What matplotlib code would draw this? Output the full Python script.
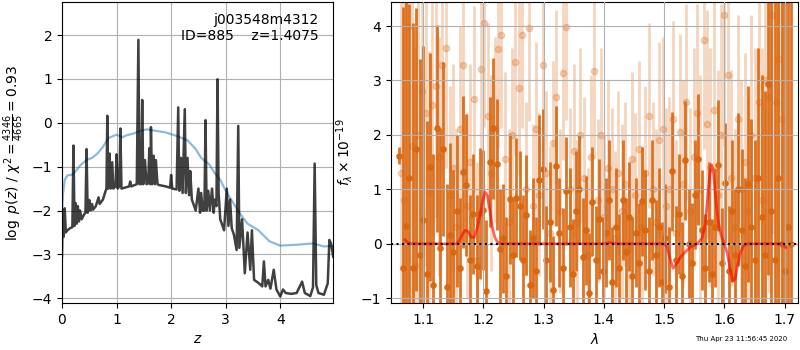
import matplotlib
matplotlib.use('Agg')
import matplotlib.pyplot as plt


# p(z) -- left panel
z_pz = [0.00, 0.01, 0.03, 0.05, 0.07, 0.10, 0.15, 0.19, 0.21, 0.23, 0.25, 0.27, 0.29, 0.31, 0.33,
        0.36, 0.40, 0.43, 0.45, 0.47, 0.50, 0.52, 0.55, 0.57, 0.62, 0.67, 0.69, 0.75, 0.80, 0.815,
        0.83, 0.845, 0.87, 0.89, 0.92, 0.94, 0.98, 1.00, 1.02, 1.05, 1.07, 1.09, 1.15, 1.23, 1.25,
        1.27, 1.37, 1.40, 1.42, 1.43, 1.45, 1.47, 1.49, 1.52, 1.55, 1.58, 1.60, 1.62, 1.63, 1.65,
        1.68, 1.70, 1.72, 1.75, 1.78, 1.90, 1.98, 2.00, 2.02, 2.10, 2.13, 2.15, 2.18, 2.21, 2.25,
        2.27, 2.30, 2.33, 2.35, 2.38, 2.45, 2.50, 2.53, 2.55, 2.58, 2.61, 2.63, 2.65, 2.68, 2.71,
        2.75, 2.78, 2.80, 2.83, 2.85, 2.87, 2.90, 2.97, 3.02, 3.05, 3.08, 3.11, 3.15, 3.20, 3.23,
        3.25, 3.30, 3.35, 3.40, 3.45, 3.48, 3.52, 3.60, 3.67, 3.70, 3.73, 3.78, 3.82, 3.88, 3.93,
        4.00, 4.05, 4.10, 4.20, 4.30, 4.40, 4.45, 4.55, 4.60, 4.63, 4.66, 4.70, 4.80, 4.87, 4.90,
        4.93, 4.97]
logp = [-3.05, -2.30, -2.60, -1.95, -2.50, -2.45, -2.40, -2.38, -0.52, -2.35, -1.83, -2.30, -1.90,
        -2.25, -2.00, -2.20, -2.10, -2.05, -0.60, -2.05, -1.76, -2.00, -1.85, -1.98, -1.90, -1.70,
        -1.85, -1.75, -1.55, -1.50, 0.16, -1.50, -0.70, -1.50, -0.90, -1.50, -1.45, -0.72, -1.50,
        -1.45, -0.13, -1.50, -1.48, -1.45, -1.34, -1.45, -1.40, 1.89, -1.40, -0.55, -1.40, 0.52,
        -1.40, -0.85, -1.40, -1.38, -0.58, -1.40, -0.10, -1.40, -0.75, -1.40, -0.85, -1.40, -1.42,
        -1.45, -1.48, -1.19, -1.50, -1.52, 0.35, -1.55, -0.80, -1.60, 0.31, -1.60, -0.80, -1.65,
        -1.10, -1.75, -2.00, -1.50, -2.05, -1.60, -2.00, -2.00, 0.06, -2.00, -1.55, -2.00, -1.50,
        -2.05, -1.75, -1.90, 0.99, -1.60, -2.20, -2.45, -1.50, -2.35, -1.75, -2.40, -2.55, -2.90,
        -0.07, -2.85, -2.20, -3.43, -2.50, -3.35, -2.45, -3.58, -3.65, -3.73, -3.16, -3.73, -3.58,
        -3.78, -3.35, -3.80, -3.96, -3.80, -3.88, -3.90, -3.88, -3.62, -3.88, -3.95, -3.75, -0.93,
        -3.70, -3.88, -3.92, -3.66, -2.67, -2.75, -3.05]

z_chi = [0.00, 0.02, 0.05, 0.10, 0.20, 0.25, 0.35, 0.45, 0.55, 0.65, 0.75, 0.85, 1.00, 1.10, 1.20,
         1.30, 1.40, 1.55, 1.70, 1.90, 2.10, 2.30, 2.45, 2.55, 2.60, 2.70, 2.80, 2.90, 3.00, 3.10,
         3.25, 3.40, 3.60, 3.80, 4.00, 4.30, 4.60, 4.80, 4.97]
chi_curve = [-2.05, -1.60, -1.30, -1.20, -1.18, -1.10, -0.95, -0.85, -0.80, -0.70, -0.55, -0.35,
             -0.27, -0.33, -0.28, -0.25, -0.20, -0.15, -0.18, -0.22, -0.30, -0.40, -0.60, -0.80,
             -0.85, -0.95, -1.15, -1.30, -1.55, -1.75, -2.05, -2.30, -2.45, -2.70, -2.80, -2.78,
             -2.75, -2.82, -2.80]

# spectrum -- right panel, first set (dark)
wave_a = [1.060, 1.066, 1.072, 1.077, 1.083, 1.088, 1.094, 1.100, 1.106, 1.112, 1.117, 1.123,
          1.128, 1.133, 1.139, 1.145, 1.150, 1.156, 1.162, 1.167, 1.172, 1.178, 1.183, 1.189,
          1.194, 1.200, 1.205, 1.211, 1.216, 1.222, 1.227, 1.233, 1.238, 1.244, 1.249, 1.255,
          1.260, 1.266, 1.271, 1.277, 1.282, 1.288, 1.293, 1.299, 1.304, 1.310, 1.315, 1.321,
          1.326, 1.332, 1.337, 1.343, 1.348, 1.354, 1.359, 1.365, 1.370, 1.376, 1.381, 1.387,
          1.392, 1.398, 1.403, 1.409, 1.414, 1.420, 1.425, 1.431, 1.436, 1.442, 1.447, 1.453,
          1.458, 1.464, 1.469, 1.475, 1.480, 1.486, 1.491, 1.497, 1.502, 1.508, 1.513, 1.519,
          1.524, 1.530, 1.535, 1.541, 1.546, 1.552, 1.557, 1.563, 1.568, 1.574, 1.579, 1.585,
          1.590, 1.596, 1.601, 1.607, 1.612, 1.618, 1.623, 1.629, 1.634, 1.640, 1.645, 1.651,
          1.656, 1.662, 1.667, 1.673, 1.678, 1.684, 1.689, 1.695, 1.700, 1.706, 1.711]
flux_a = [1.62, -0.45, 0.32, 1.20, -0.45, 1.74, -0.20, 0.43, -0.55, 1.41, -0.75, 2.12, -0.07,
          1.74, -0.80, 0.16, -0.15, 0.60, -0.45, 1.32, 1.08, -0.30, 0.55, -0.40, 0.56, 0.62,
          -0.86, 1.50, 2.12, 1.46, -0.10, 0.10, -0.60, 0.82, -0.20, 0.85, 0.70, -0.30, 0.53,
          -0.75, 0.10, -0.50, 1.17, 1.38, -0.30, 0.40, -0.85, 1.43, 0.20, -0.45, 0.97, 0.30,
          -0.55, 0.60, 1.00, -0.25, 0.25, -0.90, 0.77, -0.30, 0.45, -0.50, 0.20, 0.80, -0.70,
          0.30, -0.45, 0.80, -0.15, 0.50, -0.60, 0.20, -0.35, 0.78, 0.25, -0.50, 0.80, -0.20,
          0.30, -0.70, 0.10, -0.80, 1.33, -0.30, 0.55, -0.60, 1.53, 0.00, -0.35, 0.90, 1.55,
          0.25, -0.45, 0.40, -0.55, 0.30, 1.44, -0.35, 1.12, -0.50, 0.60, -0.20, 1.00, 0.25,
          -0.40, 1.10, 0.30, -0.30, 1.20, 0.50, -0.20, 2.93, 0.60, -0.30, 1.20, 0.00, -0.50,
          0.30, 0.00]
err_a = [0.15, 4.8, 5.0, 3.2, 4.5, 2.6, 3.6, 3.2, 2.8, 2.1, 2.4, 1.9, 2.2, 1.6, 1.9, 1.7, 1.5,
         1.4, 1.3, 1.4, 1.3, 1.2, 1.1, 1.3, 1.2, 1.1, 1.3, 1.2, 1.3, 1.2, 1.1, 1.0, 1.1, 1.2,
         1.0, 1.1, 1.0, 1.2, 1.1, 1.0, 1.1, 1.0, 1.2, 1.1, 1.0, 1.1, 1.0, 1.1, 1.0, 1.1, 1.0,
         1.1, 1.0, 1.1, 1.0, 1.1, 1.0, 1.1, 1.0, 1.0, 1.1, 1.0, 1.0, 1.1, 1.0, 1.1, 1.0, 1.1,
         1.0, 1.0, 1.1, 1.0, 1.1, 1.0, 1.1, 1.0, 1.1, 1.0, 1.1, 1.1, 1.0, 1.1, 1.1, 1.0, 1.1,
         1.0, 1.1, 1.0, 1.1, 1.0, 1.2, 1.1, 1.0, 1.1, 1.0, 1.1, 1.2, 1.0, 1.1, 1.2, 1.3, 1.2,
         1.4, 1.5, 1.6, 1.8, 2.0, 2.2, 2.4, 2.6, 3.0, 3.5, 4.0, 5.0, 6.0, 7.0, 8.0, 8.0, 8.0]

# second set (light)
wave_b = [1.063, 1.069, 1.075, 1.081, 1.087, 1.092, 1.098, 1.104, 1.109, 1.115, 1.121, 1.127,
          1.132, 1.138, 1.144, 1.150, 1.155, 1.161, 1.167, 1.173, 1.178, 1.184, 1.190, 1.196,
          1.201, 1.207, 1.213, 1.219, 1.224, 1.230, 1.236, 1.242, 1.247, 1.253, 1.259, 1.264,
          1.270, 1.276, 1.282, 1.287, 1.293, 1.299, 1.304, 1.310, 1.316, 1.321, 1.327, 1.333,
          1.338, 1.344, 1.350, 1.356, 1.361, 1.367, 1.373, 1.378, 1.384, 1.390, 1.395, 1.401,
          1.407, 1.413, 1.418, 1.424, 1.430, 1.435, 1.441, 1.447, 1.452, 1.458, 1.464, 1.469,
          1.475, 1.481, 1.486, 1.492, 1.498, 1.503, 1.509, 1.515, 1.520, 1.526, 1.532, 1.537,
          1.543, 1.549, 1.555, 1.560, 1.566, 1.572, 1.577, 1.583, 1.589, 1.594, 1.600, 1.606,
          1.611, 1.617, 1.623, 1.628, 1.634, 1.640, 1.645, 1.651, 1.657, 1.662, 1.668, 1.674,
          1.679, 1.685, 1.691, 1.696]
flux_b = [1.30, 0.80, 3.98, 1.80, -0.40, 2.00, 2.80, 2.40, 0.95, 2.55, 2.90, 1.60, 3.28, 3.60,
          0.90, 1.40, 0.30, 2.10, 3.28, 0.70, 1.50, 2.66, -0.30, 3.22, 4.05, 2.35, 1.30, 2.10,
          3.57, 3.83, 1.55, 0.40, 2.00, 3.34, 2.87, 3.83, 1.00, 3.96, 0.70, 2.10, 0.90, 3.28,
          1.30, 0.20, 1.85, 2.69, 0.60, 3.13, 3.98, 1.00, 1.70, 0.40, 2.00, 1.20, -0.20, 1.60,
          3.17, 0.80, 2.00, 0.50, 1.40, 1.00, 0.10, 1.30, 0.60, 1.10, -0.10, 1.55, 0.90, 1.75,
          0.30, 1.30, 2.35, 1.00, 0.40, 1.90, 2.10, 0.70, 1.00, 2.30, 0.20, 2.05, 1.10, 2.60,
          0.60, 1.60, 2.40, 1.00, 3.74, 2.20, 1.40, 2.45, 0.90, 2.00, 4.20, 3.10, 1.20, 0.30,
          2.30, 1.00, 1.50, 0.60, 2.00, 1.20, 2.60, 0.80, 3.00, 2.70, 4.20, 2.60, 3.40, 2.30]
err_b = [6.0, 6.0, 5.0, 4.5, 4.0, 3.5, 3.0, 2.8, 2.6, 2.4, 2.4, 2.2, 2.0, 2.2, 2.0, 1.9, 1.8,
         1.9, 1.8, 1.7, 1.8, 1.7, 1.8, 1.8, 1.9, 1.7, 1.8, 1.7, 1.8, 1.7, 1.6, 1.7, 1.6, 1.7,
         1.6, 1.7, 1.6, 1.7, 1.5, 1.6, 1.5, 1.6, 1.5, 1.6, 1.5, 1.6, 1.5, 1.6, 1.7, 1.5, 1.6,
         1.5, 1.6, 1.5, 1.6, 1.5, 1.6, 1.5, 1.6, 1.5, 1.6, 1.5, 1.6, 1.5, 1.6, 1.5, 1.6, 1.6,
         1.5, 1.6, 1.5, 1.6, 1.7, 1.6, 1.7, 1.8, 1.7, 1.8, 1.7, 1.8, 1.7, 1.8, 1.9, 1.8, 1.9,
         2.0, 2.0, 2.1, 2.0, 2.1, 2.2, 2.2, 2.3, 2.4, 2.4, 2.5, 2.0, 1.8, 1.9, 2.0, 2.0, 2.1,
         2.2, 2.4, 2.6, 2.8, 3.2, 3.6, 4.0, 4.6, 5.2, 6.0]

# line model
wave_m = [1.070, 1.075, 1.080, 1.155, 1.160, 1.165, 1.170, 1.175, 1.180, 1.185, 1.190, 1.195,
          1.199, 1.203, 1.207, 1.211, 1.215, 1.219, 1.223, 1.228, 1.400, 1.410, 1.420, 1.500,
          1.505, 1.510, 1.515, 1.520, 1.527, 1.535, 1.545, 1.555, 1.563, 1.568, 1.572, 1.576,
          1.579, 1.582, 1.586, 1.590, 1.595, 1.600, 1.605, 1.610, 1.614, 1.618, 1.622, 1.627,
          1.632, 1.640, 1.698, 1.702]
model = [0.07, 0.02, 0.00, 0.00, 0.05, 0.17, 0.25, 0.22, 0.12, 0.12, 0.30, 0.55, 0.80, 0.95,
         0.88, 0.60, 0.30, 0.12, 0.04, 0.00, 0.00, 0.02, 0.00, 0.00, -0.05, -0.28, -0.45, -0.38,
         -0.25, -0.15, -0.05, 0.00, 0.10, 0.35, 0.80, 1.30, 1.45, 1.30, 0.80, 0.40, 0.15, 0.00,
         -0.18, -0.48, -0.68, -0.65, -0.40, -0.15, -0.03, 0.00, 0.00, -0.07]

orange = '#d9660f'

fig = plt.figure(figsize=(8, 3.5), dpi=100)
ax1 = fig.add_axes([0.0775, 0.134, 0.339, 0.86])
ax2 = fig.add_axes([0.489, 0.134, 0.509, 0.86])

ax1.plot(z_chi, chi_curve, color='tab:blue', alpha=0.5, lw=1.6)
ax1.plot(z_pz, logp, color='k', alpha=0.75, lw=1.8)
ax1.set_xlim(0, 4.97)
ax1.set_ylim(-4.11, 2.75)
ax1.set_xticks([0, 1, 2, 3, 4])
ax1.set_yticks([-4, -3, -2, -1, 0, 1, 2])
ax1.grid()
ax1.set_xlabel('$z$')
ax1.set_ylabel(r'$\log\ p(z)$ / $\chi^2=\frac{4346}{4665}=0.93$')
ax1.text(0.945, 0.965, 'j003548m4312\nID=885    z=1.4075', transform=ax1.transAxes,
         ha='right', va='top', fontsize=10)

ax2.errorbar(wave_b, flux_b, yerr=err_b, color=orange, alpha=0.27, marker='o', ms=4.5,
             linestyle='none', elinewidth=2.0, zorder=1)
ax2.errorbar(wave_a, flux_a, yerr=err_a, color=orange, alpha=0.9, marker='o', ms=3.8,
             linestyle='none', elinewidth=2.0, zorder=2)
ax2.plot(wave_m, model, color='r', alpha=0.6, lw=2, zorder=4)
ax2.axhline(0, color='k', linestyle=':', lw=1.5, zorder=5)
ax2.set_xlim(1.047, 1.723)
ax2.set_ylim(-1.09, 4.44)
ax2.set_xticks([1.1, 1.2, 1.3, 1.4, 1.5, 1.6, 1.7])
ax2.set_yticks([-1, 0, 1, 2, 3, 4])
ax2.set_axisbelow(False)
ax2.grid()
ax2.set_xlabel(r'$\lambda$')
ax2.set_ylabel(r'$f_\lambda\times10^{-19}$')

fig.text(0.984, 0.022, 'Thu Apr 23 11:56:45 2020', ha='right', va='bottom', fontsize=5)

fig.savefig('out.png', dpi=100)
